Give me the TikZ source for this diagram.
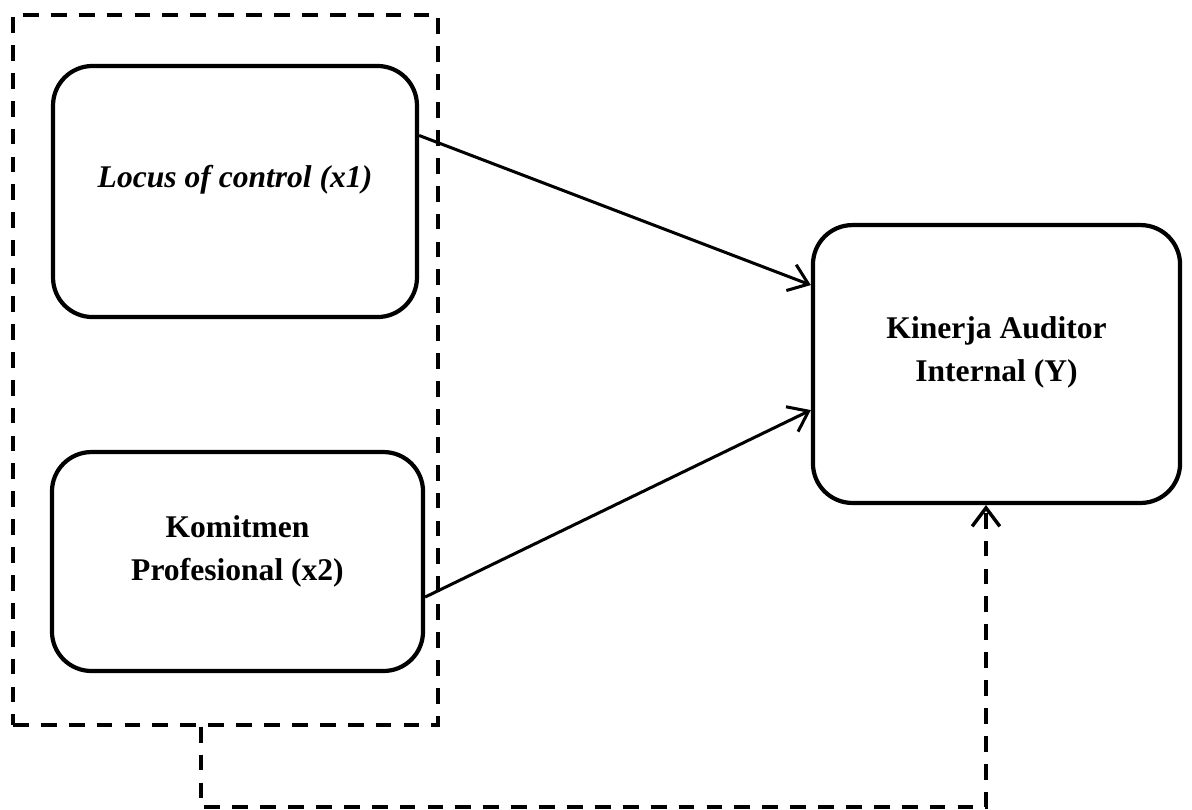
\documentclass[tikz,border=0pt]{standalone}
\usepackage{fontspec}
\setmainfont{Liberation Serif}
\usetikzlibrary{arrows.meta}

\begin{document}
\begin{tikzpicture}[x=0.38pt, y=-0.38pt,
        box/.style={draw, line width=1.6pt, rounded corners=15pt, inner sep=0pt},
        lbl/.style={font=\fontsize{12}{16.3}\selectfont\bfseries, align=center, inner sep=0pt},
        link/.style={line width=1.15pt, -{Straight Barb[length=7pt,width=10.5pt]}},
        dashline/.style={line width=1.3pt, dash pattern=on 6pt off 4.6pt}]
    \useasboundingbox (0,0) rectangle (1192,809);
    % independent variables
    \node[draw, dashline, inner sep=0pt, minimum width=161.5pt, minimum height=269.8pt] (indep) at (225.5,370) {};
    \node[box, minimum width=138.3pt, minimum height=95.4pt] (locus) at (235,191.5) {};
    \node[box, minimum width=141pt, minimum height=83.2pt] (komitmen) at (237.5,561.5) {};
    \node[lbl, font=\fontsize{12}{16.3}\selectfont\bfseries\itshape] (locusText) at ([yshift=4.4pt]locus.center) {Locus of control (x1)};
    \node[lbl] (komitmenText) at ([yshift=4pt]komitmen.center) {Komitmen\\Profesional (x2)};
    % dependent variable
    \node[box, minimum width=139.5pt, minimum height=105.6pt] (kinerja) at (996.5,364) {};
    \node[lbl] (kinerjaText) at ([yshift=4.4pt]kinerja.center) {Kinerja Auditor\\Internal (Y)};
    \draw[link] ([yshift=21.3pt]locus.east) -- ([yshift=30pt]kinerja.west);
    \draw[link] ([yshift=-13.5pt]komitmen.east) -- ([yshift=-17.5pt]kinerja.west);
    % simultaneous effect
    \coordinate (base) at (600,807);
    \draw[dashline, -{Straight Barb[length=7pt,width=10.5pt]}] ([xshift=-9.3pt]indep.south) |- (base) -| ([xshift=-4pt]kinerja.south);
\end{tikzpicture}
\end{document}
